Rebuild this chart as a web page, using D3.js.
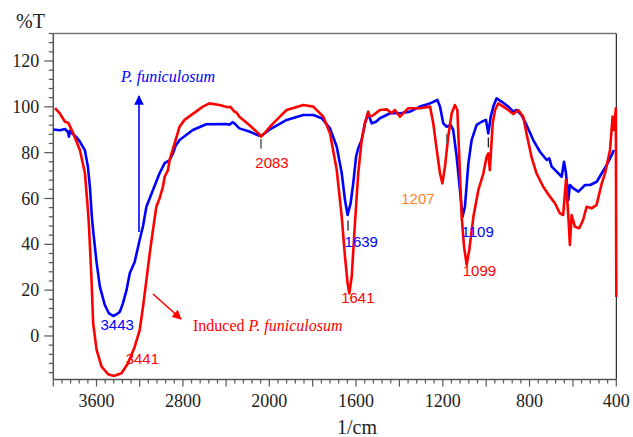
<!DOCTYPE html>
<html>
<head>
<meta charset="utf-8">
<script src="https://cdn.jsdelivr.net/npm/d3@7"></script>
<style>
  body { margin: 0; background: #fff; }
  svg { display: block; }
</style>
</head>
<body>
<svg id="chart" width="633" height="437"></svg>
<script>
// ============================================================================
// DATA
// ============================================================================

// P. funiculosum (blue)
var blueWn = [4000, 3938, 3892, 3864, 3855, 3846, 3827, 3790, 3754, 3707, 3680, 3661, 3643, 3631, 3599, 3569, 3523, 3487, 3446, 3412, 3384, 3357, 3322, 3292, 3246, 3200, 3169, 3138, 3077, 3016, 2969, 2923, 2892, 2867, 2831, 2708, 2584, 2399, 2369, 2341, 2323, 2277, 2185, 2092, 2062, 1997, 1920, 1843, 1797, 1758, 1720, 1689, 1666, 1651, 1639, 1625, 1613, 1600, 1590, 1574, 1559, 1544, 1528, 1508, 1490, 1443, 1397, 1374, 1351, 1305, 1259, 1225, 1213, 1198, 1182, 1164, 1152, 1136, 1121, 1109, 1098, 1082, 1067, 1044, 1021, 1001, 990, 979, 967, 952, 929, 898, 875, 860, 837, 814, 783, 752, 721, 709, 698, 675, 652, 641, 632, 621, 614, 598, 575, 544, 521, 490, 467, 444, 421, 411];
var blueT = [90.1, 89.8, 90.3, 89, 87, 89.5, 88.5, 87, 84.8, 81, 74, 65, 52, 46, 32, 21.5, 13.5, 10, 8.7, 9.5, 10.6, 14, 20, 27.4, 32.4, 42, 48, 56.4, 63.7, 71, 75.4, 76.8, 79.7, 83, 85.5, 89.9, 92.4, 92.5, 92.2, 93.3, 92.8, 90.6, 89.2, 87.4, 87.7, 90.2, 94.3, 96.4, 96.4, 95, 90.6, 82.6, 71, 59.3, 52.8, 57.9, 66.6, 78.2, 81.9, 85.5, 92.8, 97.2, 92.8, 93.5, 95, 97.2, 97.2, 97.5, 97.9, 100.1, 101.5, 103, 100.1, 92.8, 91.3, 92.1, 89.9, 78.2, 63.7, 52, 56.4, 75.4, 85.5, 92.1, 93.5, 94.3, 88.4, 95.7, 100.1, 103.7, 102.3, 100.1, 97.9, 98.6, 96.4, 92.1, 85.5, 80.4, 76.8, 77.5, 73.9, 71.7, 69.5, 76, 71, 59.3, 65.9, 64.4, 63, 65.9, 65.9, 67.3, 71, 74.6, 79, 81.2];

// Induced P. funiculosum (red)
var redWn = [3984, 3938, 3892, 3862, 3815, 3754, 3707, 3677, 3668, 3646, 3631, 3599, 3553, 3492, 3440, 3369, 3308, 3246, 3200, 3169, 3138, 3107, 3077, 3046, 3016, 2985, 2969, 2938, 2923, 2877, 2831, 2785, 2708, 2615, 2554, 2461, 2385, 2360, 2323, 2302, 2277, 2185, 2092, 2077, 2031, 1997, 1982, 1951, 1920, 1843, 1797, 1751, 1720, 1689, 1666, 1651, 1639, 1631, 1620, 1605, 1590, 1574, 1559, 1544, 1536, 1520, 1490, 1459, 1436, 1421, 1397, 1359, 1305, 1259, 1244, 1228, 1213, 1202, 1190, 1175, 1159, 1144, 1133, 1124, 1113, 1102, 1090, 1078, 1059, 1036, 1013, 998, 990, 983, 970, 959, 944, 921, 898, 875, 852, 829, 814, 791, 768, 737, 706, 683, 660, 645, 632, 621, 614, 606, 591, 571, 553, 537, 514, 491, 467, 452, 429, 417, 411, 402, 400];
var redT = [99.4, 97, 93.5, 93.1, 88.4, 81.2, 71, 53.5, 46.3, 24.4, 5.5, -6.1, -13.4, -16.7, -17.5, -16.3, -11.9, -4.7, 2.6, 12.8, 24.4, 36.1, 46.3, 56.4, 60, 65.1, 69.5, 72.4, 76.8, 84.1, 91.3, 94.3, 96.9, 100.1, 101.5, 100.8, 99.8, 100, 97.9, 97.4, 95.7, 92.1, 88, 87, 89.2, 91.3, 92.8, 95.7, 98.6, 100.8, 100.1, 95.7, 88.4, 72.4, 52, 34.6, 23, 18.6, 25.9, 49.2, 71, 85.5, 92.8, 97.9, 95.7, 96.4, 98.6, 98.9, 97.2, 98.6, 95.7, 99.4, 99.4, 100.1, 92.8, 81.2, 71, 66.6, 73.9, 87, 97.2, 100.8, 98.6, 78.2, 52, 39, 31, 37.5, 52, 63.7, 71, 78.2, 79.7, 72.4, 92.8, 98.6, 101.5, 100.1, 98.6, 96.9, 98.6, 95.7, 88.4, 78.2, 71, 65.1, 60.8, 57.9, 53.5, 52.8, 68.1, 52, 39.7, 52.8, 47.7, 47, 50.6, 56.4, 55.7, 57.2, 66.6, 71, 81.2, 95.7, 89.9, 99.4, 17];

// axis ticks
var xTickLabels = [3600, 2800, 2000, 1600, 1200, 800, 400];
var yTickLabels = [0, 20, 40, 60, 80, 100, 120];

// peak labels: wavenumber, %T at label baseline, text, colour
var peakWn = [2083, 3443, 3441, 1639, 1641, 1207, 1109, 1099];
var peakT = [73.4, 2.6, -12.2, 39, 14.4, 57.6, 43.3, 26.2];
var peakText = ["2083", "3443", "3441", "1639", "1641", "1207", "1109", "1099"];
var peakColor = ["#ff0000", "#0000ff", "#ff0000", "#0000ff", "#ff0000", "#ff7f27", "#0000ff", "#ff0000"];

// small marker ticks over peaks: wavenumber, top %T, bottom %T, colour
var markWn = [2077, 1637, 1183, 990];
var markTop = [86, 50.4, 88.3, 86.6];
var markBot = [81.7, 46, 83.8, 82.3];
var markColor = ["#333", "#111", "#777", "#111"];

// ============================================================================
// SCALES
// ============================================================================

var svg = d3.select("#chart");
var box = { left: 53.3, right: 616.3, top: 33.5, bottom: 379.5 };

// spectrometer axis: scale doubles below 2000 cm-1
var x = d3.scaleLinear().domain([4000, 2000, 400]).range([box.left, 269.3, box.right]);
var y = d3.scaleLinear().domain([-19, 132]).range([box.bottom, box.top]);

var serif = "'Liberation Serif', 'Times New Roman', serif";
var sans = "'Liberation Sans', Arial, sans-serif";

// ============================================================================
// FRAME & AXES
// ============================================================================

svg.append("line").attr("x1", box.left).attr("x2", box.right).attr("y1", box.top).attr("y2", box.top)
    .attr("stroke", "#777").attr("stroke-width", 1.5);
svg.append("line").attr("x1", box.right).attr("x2", box.right).attr("y1", box.top).attr("y2", box.bottom)
    .attr("stroke", "#000").attr("stroke-width", 1);

// y axis
var yTicks = d3.range(-16, 133, 4);
var yAxis = svg.append("g").attr("transform", "translate(" + box.left + ",0)");
yAxis.append("line").attr("x1", 0).attr("x2", 0).attr("y1", box.top).attr("y2", box.bottom)
    .attr("stroke", "#555").attr("stroke-width", 1.5);
yAxis.selectAll(".ytick").data(yTicks).enter().append("line")
    .attr("x1", function(d) { return d % 20 === 0 ? -9 : -4.5; })
    .attr("x2", 0)
    .attr("y1", function(d) { return y(d); })
    .attr("y2", function(d) { return y(d); })
    .attr("stroke", "#555").attr("stroke-width", 1.2);
yAxis.selectAll(".ylab").data(yTickLabels).enter().append("text")
    .attr("x", -14).attr("y", function(d) { return y(d); })
    .attr("dy", "0.34em")
    .attr("text-anchor", "end")
    .attr("font-family", serif).attr("font-size", 18).attr("fill", "#222")
    .text(function(d) { return d; });

// x axis
var xTicks = d3.range(4000, 2000, -80).concat(d3.range(2000, 399, -40));
var isMajor = function(d) { return d > 2000 ? (4000 - d) % 400 === 0 : d % 200 === 0; };
var xAxis = svg.append("g").attr("transform", "translate(0," + box.bottom + ")");
xAxis.append("line").attr("x1", box.left).attr("x2", box.right).attr("y1", 0).attr("y2", 0)
    .attr("stroke", "#555").attr("stroke-width", 1.5);
xAxis.selectAll(".xtick").data(xTicks).enter().append("line")
    .attr("x1", function(d) { return x(d); })
    .attr("x2", function(d) { return x(d); })
    .attr("y1", 0)
    .attr("y2", function(d) { return isMajor(d) ? 7 : 4; })
    .attr("stroke", "#555").attr("stroke-width", 1.2);
xAxis.selectAll(".xlab").data(xTickLabels).enter().append("text")
    .attr("x", function(d) { return x(d); }).attr("y", 27)
    .attr("text-anchor", "middle")
    .attr("font-family", serif).attr("font-size", 18).attr("fill", "#222")
    .text(function(d) { return d; });

// axis titles
svg.append("text").attr("x", 16).attr("y", 27.5)
    .attr("font-family", serif).attr("font-size", 20).attr("fill", "#222").text("%T");
svg.append("text").attr("x", 357).attr("y", 434)
    .attr("text-anchor", "middle")
    .attr("font-family", serif).attr("font-size", 20).attr("fill", "#222").text("1/cm");

// ============================================================================
// SPECTRA
// ============================================================================

svg.append("clipPath").attr("id", "plot-clip").append("rect")
    .attr("x", box.left).attr("y", box.top - 2)
    .attr("width", box.right - box.left + 2).attr("height", box.bottom - box.top + 2);

var line = d3.line()
    .x(function(d) { return x(d[0]); })
    .y(function(d) { return y(d[1]); });

var plot = svg.append("g").attr("clip-path", "url(#plot-clip)");

plot.append("path")
    .datum(d3.zip(blueWn, blueT))
    .attr("d", line)
    .attr("fill", "none").attr("stroke", "#0000ff").attr("stroke-width", 2.6)
    .attr("stroke-linejoin", "round");

plot.append("path")
    .datum(d3.zip(redWn, redT))
    .attr("d", line)
    .attr("fill", "none").attr("stroke", "#ff0000").attr("stroke-width", 2.6)
    .attr("stroke-linejoin", "round");

// ============================================================================
// ANNOTATIONS
// ============================================================================

var defs = svg.append("defs");
["#0000ff", "#ff0000"].forEach(function(c, i) {
    defs.append("marker").attr("id", "arrow" + i)
        .attr("viewBox", "0 0 10 10").attr("refX", 9).attr("refY", 5)
        .attr("markerWidth", 6).attr("markerHeight", 6)
        .attr("markerUnits", "strokeWidth")
        .attr("orient", "auto")
        .append("path").attr("d", "M0,0 L10,5 L0,10 Z").attr("fill", c);
});

// blue arrow + label
svg.append("line").attr("x1", 139).attr("y1", 232).attr("x2", 139).attr("y2", 96)
    .attr("stroke", "#0000ff").attr("stroke-width", 1.6).attr("marker-end", "url(#arrow0)");
svg.append("text").attr("x", 121).attr("y", 81.5)
    .attr("font-family", serif).attr("font-size", 16).attr("font-style", "italic")
    .attr("fill", "#0000ff").text("P. funiculosum");

// red arrow + label
svg.append("line").attr("x1", 153).attr("y1", 294).attr("x2", 181).attr("y2", 319)
    .attr("stroke", "#ff0000").attr("stroke-width", 1.6).attr("marker-end", "url(#arrow1)");
var ind = svg.append("text").attr("x", 193).attr("y", 331)
    .attr("font-family", serif).attr("font-size", 16).attr("fill", "#ff0000");
ind.append("tspan").text("Induced ");
ind.append("tspan").attr("font-style", "italic").text("P. funiculosum");

// marker ticks
svg.selectAll(".mark").data(markWn).enter().append("line")
    .attr("x1", function(d) { return x(d); })
    .attr("x2", function(d) { return x(d); })
    .attr("y1", function(d, i) { return y(markTop[i]); })
    .attr("y2", function(d, i) { return y(markBot[i]); })
    .attr("stroke", function(d, i) { return markColor[i]; })
    .attr("stroke-width", 1.2);

// peak labels
svg.selectAll(".peak").data(peakWn).enter().append("text")
    .attr("x", function(d) { return x(d); })
    .attr("y", function(d, i) { return y(peakT[i]); })
    .attr("text-anchor", "start")
    .attr("dx", function(d, i) { return [-5, -13, 12, -3, -6, -40, -1, -2][i]; })
    .attr("font-family", sans).attr("font-size", 15)
    .attr("fill", function(d, i) { return peakColor[i]; })
    .text(function(d, i) { return peakText[i]; });
</script>
</body>
</html>
